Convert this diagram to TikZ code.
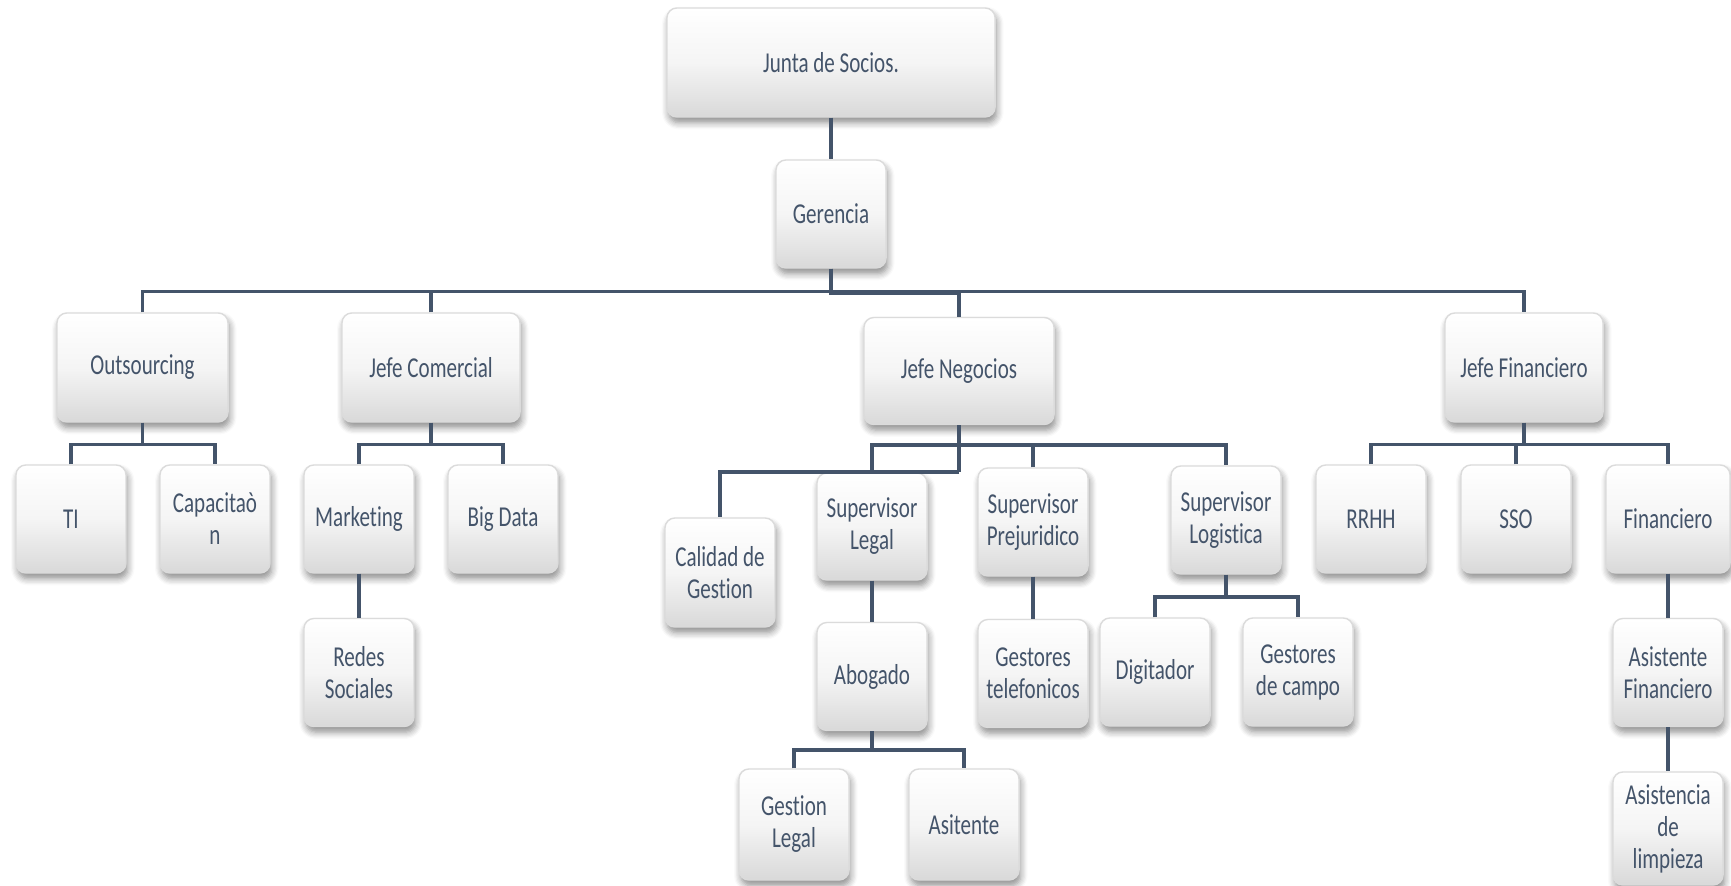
\documentclass[tikz,border=0pt]{standalone}
\usepackage{fontspec}
\setmainfont{Carlito}[FakeStretch=0.73,Ligatures=NoCommon]
\usepackage{tikz}
\usetikzlibrary{positioning,shadows.blur}
\definecolor{slate}{HTML}{44546A}

\begin{document}
\begin{tikzpicture}[
  x=0.01cm,y=-0.01cm,
  node distance=4.4mm and 3.4mm,
  box/.style={draw=black!14,line width=0.4pt,rounded corners=1mm,top color=white,bottom color=black!15,middle color=white!96!black,
    blur shadow={shadow xshift=0.5pt,shadow yshift=-1.6pt,shadow blur steps=6,shadow opacity=45},
    minimum width=11mm,minimum height=10.8mm,align=center,text=slate,inner sep=1pt,font=\fontsize{8.2}{9.1}\selectfont},
  link/.style={draw=slate,line width=1pt}
]
\useasboundingbox (0,0) rectangle (1731,885);

\node[box,minimum width=32.8mm,minimum height=10.9mm] (junta) at (831,62.5) {Junta de Socios.};
\node[box] (geren) at (831,214) {Gerencia};

\node[box,minimum width=17.1mm,minimum height=10.9mm] (outs) at (142.5,367.5) {Outsourcing};
\node[box,minimum width=17.8mm,minimum height=10.9mm] (jcom) at (431,367.5) {Jefe Comercial};
\node[box,minimum width=19mm,minimum height=10.7mm] (jneg) at (959,371) {Jefe Negocios};
\node[box,minimum width=15.8mm,minimum height=10.9mm] (jfin) at (1524,367.5) {Jefe Financiero};

\node[box] (ti) at (71,519) {TI};
\node[box] (capa) at (215,519) {Capacitaò\\n};
\node[box] (mkt) at (359,519) {Marketing};
\node[box] (bigd) at (503,519) {Big Data};
\node[box,below=of mkt] (redes) {Redes\\Sociales};

\node[box,minimum height=10.9mm] (calid) at (720,572.5) {Calidad de\\Gestion};
\node[box,minimum height=10.7mm] (suplg) at (872,526.5) {Supervisor\\Legal};
\node[box] (suppj) at (1033,522) {Supervisor\\Prejuridico};
\node[box] (suplo) at (1226,520) {Supervisor\\Logistica};
\node[box,below=4.1mm of suplg] (abog) {Abogado};
\node[box,below=4.2mm of suppj] (gtel) {Gestores\\telefonicos};
\node[box] (digit) at (1155,672) {Digitador};
\node[box] (gcamp) at (1298,672) {Gestores\\de campo};
\node[box,minimum height=11.1mm] (glegal) at (794,824.5) {Gestion\\Legal};
\node[box,minimum height=11.1mm] (asit) at (964,824.5) {Asitente};

\node[box] (rrhh) at (1371,519) {RRHH};
\node[box] (sso) at (1516,519) {SSO};
\node[box,minimum width=12.4mm] (finan) at (1668,519) {Financiero};
\node[box,below=of finan] (asisf) {Asistente\\Financiero};
\node[box,below=of asisf,minimum height=11.3mm] (limp) {Asistencia\\de\\limpieza};

\draw[link] (junta) -- (geren);
\draw[link] (geren.south) -- ++(0,23) coordinate (g1);
\draw[link] (outs.north) |- (g1) -| (jfin.north);
\draw[link] (jcom.north) -- (jcom.north |- g1);
\draw[link] (geren.south) -- ++(0,25) -| (jneg.north);

\draw[link] (outs.south) -- ++(0,22) coordinate (o1);
\draw[link] (ti.north) |- (o1) -| (capa.north);
\draw[link] (jcom.south) -- ++(0,22) coordinate (c1);
\draw[link] (mkt.north) |- (c1) -| (bigd.north);
\draw[link] (mkt) -- (redes);

\draw[link] (jneg.south) -- ++(0,20) coordinate (n1) -- ++(0,27) coordinate (n2);
\draw[link] (suplg.north) |- (n1) -| (suplo.north);
\draw[link] (suppj.north) -- (suppj.north |- n1);
\draw[link] (n2) -| (calid.north);
\draw[link] (suplg) -- (abog);
\draw[link] (abog.south) -- ++(0,19) coordinate (a1);
\draw[link] (glegal.north) |- (a1) -| (asit.north);
\draw[link] (suppj) -- (gtel);
\draw[link] (suplo.south) -- ++(0,22) coordinate (l1);
\draw[link] (digit.north) |- (l1) -| (gcamp.north);

\draw[link] (jfin.south) -- ++(0,22) coordinate (f1);
\draw[link] (rrhh.north) |- (f1) -| (finan.north);
\draw[link] (sso.north) -- (sso.north |- f1);
\draw[link] (finan) -- (asisf);
\draw[link] (asisf) -- (limp);
\end{tikzpicture}
\end{document}
